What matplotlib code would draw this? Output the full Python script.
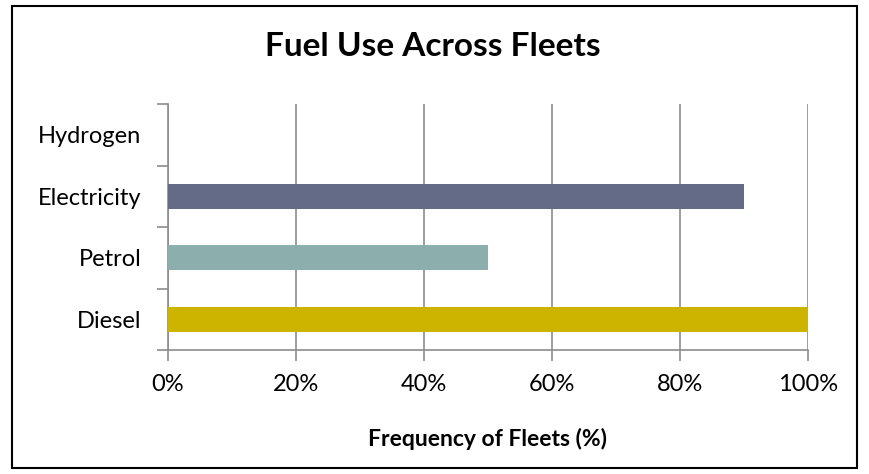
import matplotlib
matplotlib.use("Agg")
import matplotlib.pyplot as plt
from matplotlib.patches import Rectangle
from matplotlib.ticker import FixedLocator, PercentFormatter

plt.rcParams['font.family'] = ['Lato', 'DejaVu Sans']

# Fuel types and share of fleets using each
fuels = ['Diesel', 'Petrol', 'Electricity', 'Hydrogen']
share = [100, 50, 90, 0]
bar_colors = ['#cdb400', '#8caead', '#636b87', '#636b87']
x_ticks = [0, 20, 40, 60, 80, 100]

fig = plt.figure(figsize=(8.69, 4.74), dpi=100)
ax = fig.add_axes([168 / 869, 1 - 350 / 474, 640 / 869, 246 / 474])

pos = range(len(fuels))
ax.barh(pos, share, height=0.41, color=bar_colors, zorder=3)

ax.set_xlim(0, 100)
ax.set_ylim(-0.5, len(fuels) - 0.5)

grid_gray = '#8c8c8c'
ax.set_xticks(x_ticks)
ax.xaxis.set_major_formatter(PercentFormatter(decimals=0))
ax.grid(axis='x', color=grid_gray, linewidth=1.2, zorder=0)
ax.tick_params(axis='x', direction='out', length=8, width=1.2, color=grid_gray,
               labelsize=17, pad=9)

ax.set_yticks(list(pos))
ax.set_yticklabels(fuels)
ax.yaxis.set_minor_locator(FixedLocator([p - 0.5 for p in range(len(fuels) + 1)]))
ax.tick_params(axis='y', which='major', length=0, labelsize=17, pad=19)
ax.tick_params(axis='y', which='minor', direction='out', length=8, width=1.2,
               color=grid_gray)

for side in ['top', 'right']:
    ax.spines[side].set_visible(False)
for side in ['left', 'bottom']:
    ax.spines[side].set_color(grid_gray)
    ax.spines[side].set_linewidth(1.2)

ax.set_xlabel('Frequency of Fleets (%)', fontsize=16.5, fontweight='bold', labelpad=24)
fig.text(433 / 869, 1 - 46 / 474, 'Fuel Use Across Fleets', ha='center', va='center',
         fontsize=24, fontweight='bold')

# chart frame
fig.patches.append(Rectangle((12 / 869, 6 / 474), 845 / 869, 462 / 474,
                             transform=fig.transFigure, fill=False,
                             edgecolor='black', linewidth=1.5))

fig.savefig('out.png', dpi=100)
